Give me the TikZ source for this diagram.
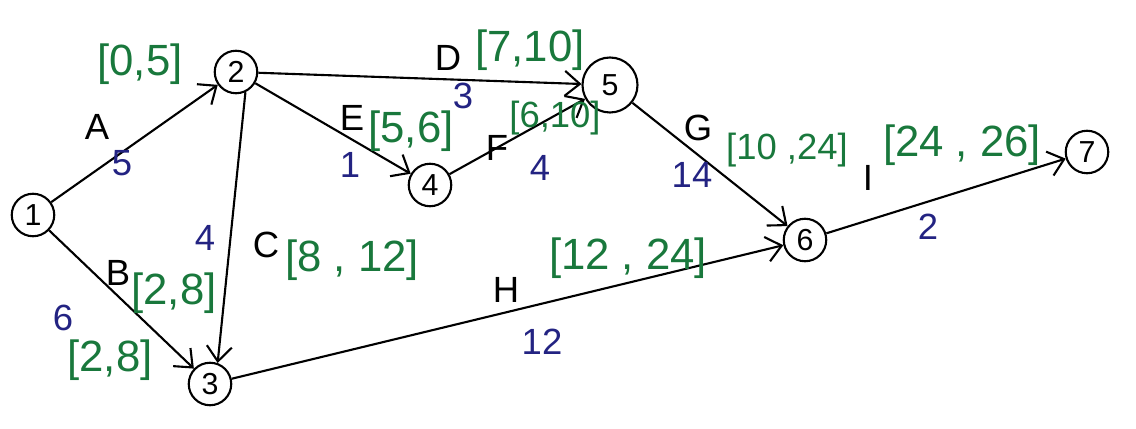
\documentclass[tikz,border=0pt]{standalone}
\usepackage{fontspec}
\setmainfont{Liberation Sans}
\usetikzlibrary{arrows.meta}
\definecolor{inkgreen}{RGB}{25,120,60}
\definecolor{inkblue}{RGB}{35,35,130}
\begin{document}
\begin{tikzpicture}[
    event/.style={draw, circle, line width=1.2pt, minimum size=0.85cm, inner sep=0pt, font=\LARGE},
    arc/.style={line width=1.2pt, -{Straight Barb[length=3mm, width=5mm]}},
    act/.style={font=\huge},
    span/.style={text=inkgreen, font=\Huge},
    dur/.style={text=inkblue, font=\huge}
]
\useasboundingbox (0,0) rectangle (22.72,8.58);
\node[event] (n1) at (0.66,4.28) {1};
\node[event] (n2) at (4.72,7.14) {2};
\node[event] (n3) at (4.20,0.90) {3};
\node[event] (n4) at (8.60,4.88) {4};
\node[event, minimum size=1.1cm] (n5) at (12.20,6.88) {5};
\node[event] (n6) at (16.10,3.78) {6};
\node[event] (n7) at (21.74,5.54) {7};
\draw[arc] (n1) -- (n2);
\draw[arc] (n1) -- (n3);
\draw[arc] (n2.-65) -- (n3.70);
\draw[arc] (n2) -- (n5);
\draw[arc] (n2) -- (n4);
\draw[arc] (n4) -- (n5);
\draw[arc] (n5) -- (n6);
\draw[arc] (n3) -- (n6);
\draw[arc] (n6) -- (n7);
\node[act] (lA) at (1.94,6.04) {A};
\node[span] (sA) at (2.80,7.30) {[0,5]};
\node[dur] (dA) at (2.44,5.32) {5};
\node[act] (lB) at (2.36,3.12) {B};
\node[span] (sB) at (3.48,2.72) {[2,8]};
\node[dur] (dB) at (1.26,2.22) {6};
\node[span] (xB) at (2.20,1.38) {[2,8]};
\node[dur] (dC) at (4.10,3.82) {4};
\node[act] (lC) at (5.32,3.68) {C};
\node[span] (sC) at (7.04,3.38) {[8 , 12]};
\node[act] (lD) at (8.96,7.42) {D};
\node[span] (sD) at (10.60,7.58) {[7,10]};
\node[dur] (dD) at (9.26,6.66) {3};
\node[act] (lE) at (7.04,6.22) {E};
\node[span] (sE) at (8.22,5.96) {[5,6]};
\node[dur] (dE) at (7.00,5.28) {1};
\node[act] (lF) at (9.94,5.62) {F};
\node[span, font=\huge] (sF) at (11.10,6.22) {[6,10]};
\node[dur] (dF) at (10.80,5.22) {4};
\node[act] (lG) at (13.96,6.02) {G};
\node[span, font=\huge] (sG) at (15.74,5.58) {[10 ,24]};
\node[dur] (dG) at (13.84,5.08) {14};
\node[act] (lH) at (10.12,2.78) {H};
\node[span] (sH) at (12.56,3.42) {[12 , 24]};
\node[dur] (dH) at (10.84,1.74) {12};
\node[act] (lI) at (17.36,5.02) {I};
\node[span] (sI) at (19.24,5.68) {[24 , 26]};
\node[dur] (dI) at (18.56,4.04) {2};
\end{tikzpicture}
\end{document}
